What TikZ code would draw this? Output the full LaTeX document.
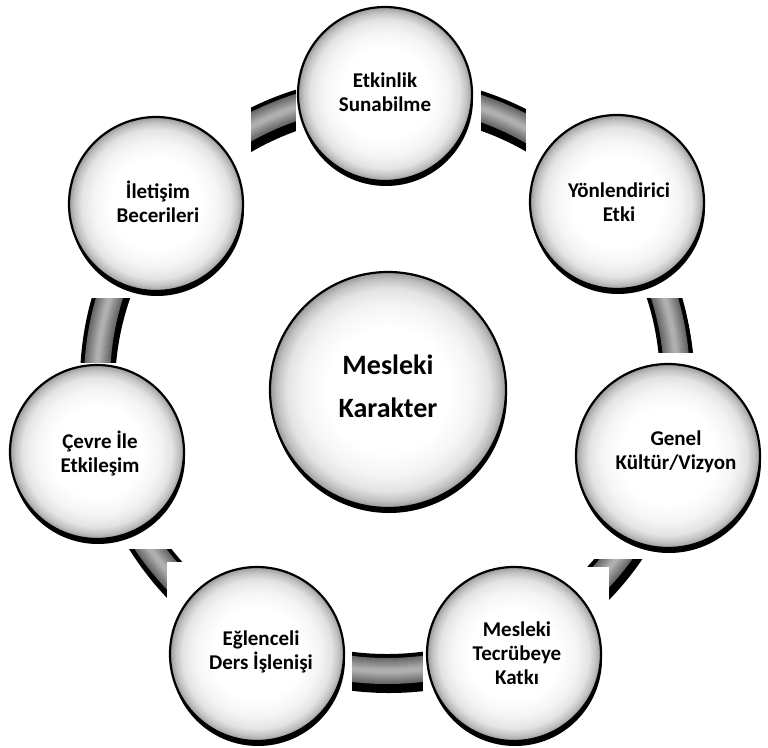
\documentclass[tikz,border=0pt]{standalone}
\usepackage{fontspec}
\setmainfont{Carlito}
\usetikzlibrary{shadows}
\pgfdeclareradialshading{bubbleshade}{\pgfpoint{0bp}{0bp}}{%
 color(0bp)=(white); color(13bp)=(white); color(18bp)=(black!4); color(21.5bp)=(black!11); color(23.5bp)=(black!24); color(25bp)=(black!40); color(50bp)=(black!40)}
\begin{document}
\begin{tikzpicture}[x=1pt,y=-1pt,
  bubble/.style={circle, draw=black, line width=2.2pt, shading=bubbleshade, inner sep=0pt, minimum size=#1,
    drop shadow={shadow xshift=1pt, shadow yshift=-5pt, fill=black, opacity=1}},
  smalltxt/.style={align=center, font=\fontsize{21}{24}\selectfont\bfseries, inner sep=0pt},
  bigtxt/.style={align=center, font=\fontsize{28}{43}\selectfont\bfseries, inner sep=0pt},
  clearbox/.style={fill=white, draw=none}]
\useasboundingbox (0,0) rectangle (768,747);
% ring (tube)
\draw[line width=32pt, black, shift={(2,6)}] (387,382) ellipse [x radius=290, y radius=289];
\draw[line width=34pt, black] (387,382) ellipse [x radius=290, y radius=289];
\foreach \i in {0,...,11}{
  \pgfmathsetmacro{\w}{26-2*\i}
  \pgfmathsetmacro{\c}{60-2.6*\i}
  \draw[line width=\w pt, black!\c] (387,382) ellipse [x radius=290, y radius=289];
}
% white boxes behind the bubbles
\fill[clearbox] (296,0) rectangle (481,190);
\fill[clearbox] (526,100) rectangle (712,298);
\fill[clearbox] (572,353) rectangle (768,559);
\fill[clearbox] (423,567) rectangle (609,747);
\fill[clearbox] (167,562) rectangle (352,747);
\fill[clearbox] (5,363) rectangle (193,549);
\fill[clearbox] (63,95) rectangle (251,298);
% bubbles
\node[bubble=236pt] (c0) at (388,390) {};
\node[bubble=174pt] (c1) at (385,94) {};
\node[bubble=174pt] (c2) at (617,202) {};
\node[bubble=184pt] (c3) at (668,456) {};
\node[bubble=174pt] (c4) at (514,654) {};
\node[bubble=174pt] (c5) at (257,654) {};
\node[bubble=174pt] (c6) at (97,452) {};
\node[bubble=174pt] (c7) at (156,204) {};
% labels
\node[bigtxt] (t0) at (388,386) {Mesleki\\Karakter};
\node[smalltxt] (t1) at (385,92) {Etkinlik\\Sunabilme};
\node[smalltxt] (t2) at (619,202) {Yönlendirici\\Etki};
\node[smalltxt] (t3) at (676,452) {Genel\\Kültür/Vizyon};
\node[smalltxt] (t4) at (517,653) {Mesleki\\Tecrübeye\\Katkı};
\node[smalltxt] (t5) at (261,652) {Eğlenceli\\Ders İşlenişi};
\node[smalltxt] (t6) at (100,453) {Çevre İle\\Etkileşim};
\node[smalltxt] (t7) at (158,202) {İletişim\\Becerileri};
\end{tikzpicture}
\end{document}
